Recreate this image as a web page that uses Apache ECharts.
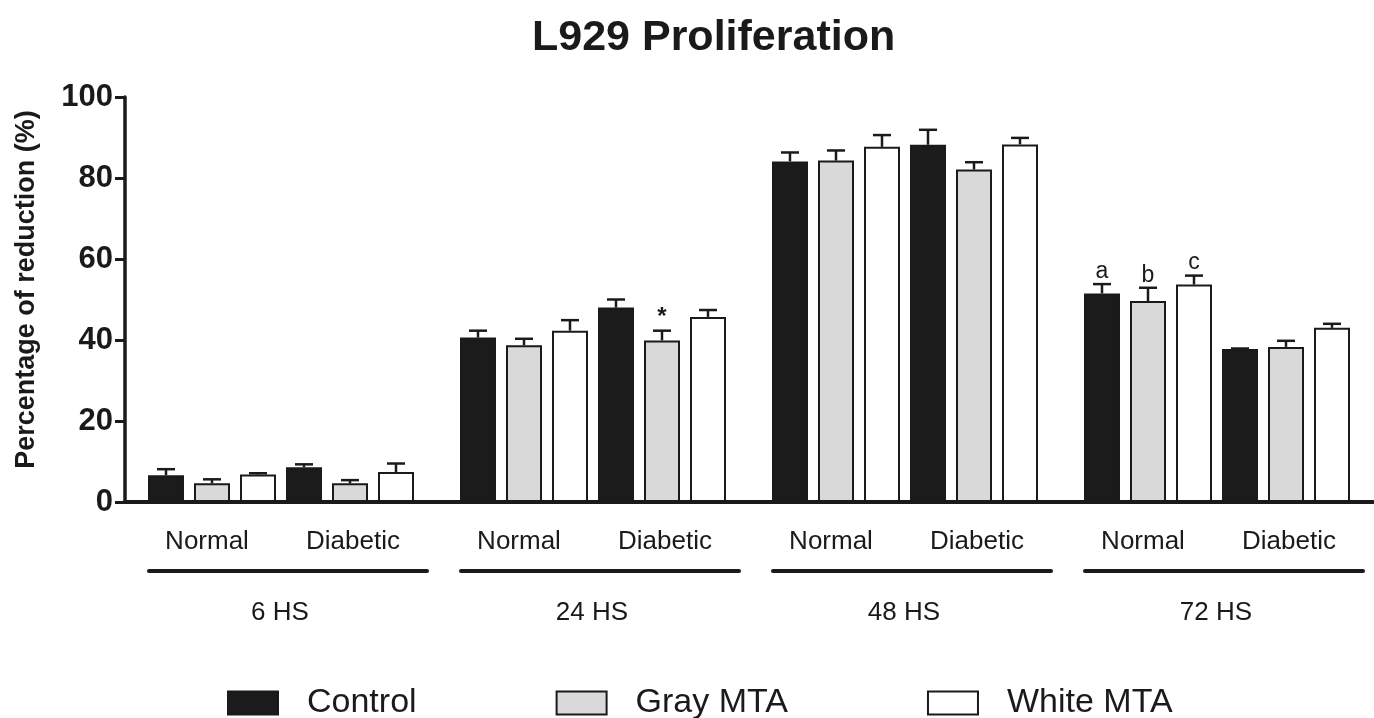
<!DOCTYPE html>
<html>
<head>
<meta charset="utf-8">
<title>L929 Proliferation</title>
<script src="https://cdn.jsdelivr.net/npm/echarts@6/dist/echarts.min.js"></script>
<style>
  html, body { margin: 0; padding: 0; background: #fff; }
  #chart { width: 1374px; height: 718px; }
</style>
</head>
<body>
<div id="chart"></div>
<script>
var groups = ['6 HS', '24 HS', '48 HS', '72 HS'];
var conditions = ['Normal', 'Diabetic'];
var treatments = ['Control', 'Gray MTA', 'White MTA'];

// mean percentage of reduction, one value per time group
var normalControl = [6.6, 40.6, 84.1, 51.5];
var normalGray = [4.6, 38.7, 84.3, 49.6];
var normalWhite = [6.8, 42.3, 87.7, 53.7];
var diabeticControl = [8.6, 48.0, 88.2, 37.8];
var diabeticGray = [4.6, 39.9, 82.1, 38.3];
var diabeticWhite = [7.4, 45.7, 88.3, 43.0];

// error bars (upper only)
var normalControlErr = [1.5, 1.7, 2.2, 2.3];
var normalGrayErr = [1.0, 1.6, 2.5, 3.3];
var normalWhiteErr = [0.3, 2.6, 2.9, 2.2];
var diabeticControlErr = [0.7, 2.0, 3.7, 0.1];
var diabeticGrayErr = [0.8, 2.4, 1.8, 1.5];
var diabeticWhiteErr = [2.1, 1.7, 1.6, 1.0];

// significance marks: [bar index in group, group index, text]
var sigMarks = [[4, 1, '*'], [0, 3, 'a'], [1, 3, 'b'], [2, 3, 'c']];

var yTicks = [0, 20, 40, 60, 80, 100];

var FONT = '"Liberation Sans", Arial, sans-serif';
var INK = '#1a1a1a';
var fills = ['#1b1b1b', '#d9d9d9', '#ffffff'];
var BAR_W = 36;
var BAR_PITCH = 46;

var means = [normalControl, normalGray, normalWhite, diabeticControl, diabeticGray, diabeticWhite];
var errs = [normalControlErr, normalGrayErr, normalWhiteErr, diabeticControlErr, diabeticGrayErr, diabeticWhiteErr];

function buildBars() {
    var list = [];
    for (var k = 0; k < 6; k++) {
        list.push({
            name: treatments[k % 3],
            type: 'bar',
            data: means[k],
            barWidth: BAR_W,
            barGap: ((BAR_PITCH - BAR_W) / BAR_W * 100) + '%',
            itemStyle: {
                color: fills[k % 3],
                borderColor: INK,
                borderWidth: 2
            },
            z: 2
        });
    }
    return list;
}

function buildErrData() {
    var data = [];
    for (var k = 0; k < 6; k++) {
        for (var g = 0; g < groups.length; g++) {
            var mark = '';
            for (var s = 0; s < sigMarks.length; s++) {
                if (sigMarks[s][0] === k && sigMarks[s][1] === g) mark = sigMarks[s][2];
            }
            data.push({ value: [g, k, means[k][g], errs[k][g]], mark: mark });
        }
    }
    return data;
}

var errData = buildErrData();

function renderErr(params, api) {
    var g = api.value(0), k = api.value(1), m = api.value(2), e = api.value(3);
    var base = api.coord([g, m]);
    var x = base[0] + (k - 2.5) * BAR_PITCH;
    var top = api.coord([g, m + e])[1];
    var children = [
        { type: 'line', shape: { x1: x, y1: base[1], x2: x, y2: top }, style: { stroke: INK, lineWidth: 2.5 } },
        { type: 'line', shape: { x1: x - 9, y1: top, x2: x + 9, y2: top }, style: { stroke: INK, lineWidth: 2.5 } }
    ];
    var mark = errData[params.dataIndex].mark;
    if (mark) {
        children.push({
            type: 'text',
            style: {
                text: mark, x: x, y: top - 1,
                align: 'center', verticalAlign: 'bottom',
                font: (mark === '*' ? 'bold 24px ' : '23px ') + FONT,
                fill: INK
            }
        });
    }
    return { type: 'group', children: children };
}

function renderGroupLabels(params, api) {
    var g = api.value(0);
    var c = api.coord([g, 0]);
    var cx = c[0], y0 = c[1];
    var f = '26px ' + FONT;
    return {
        type: 'group',
        children: [
            { type: 'text', style: { text: conditions[0], x: cx - 74, y: y0 + 40, align: 'center', verticalAlign: 'middle', font: f, fill: INK } },
            { type: 'text', style: { text: conditions[1], x: cx + 72, y: y0 + 40, align: 'center', verticalAlign: 'middle', font: f, fill: INK } },
            { type: 'line', shape: { x1: cx - 132, y1: y0 + 69, x2: cx + 146, y2: y0 + 69 }, style: { stroke: INK, lineWidth: 4, lineCap: 'round' } },
            { type: 'text', style: { text: groups[g], x: cx - 1, y: y0 + 111, align: 'center', verticalAlign: 'middle', font: f, fill: INK } }
        ]
    };
}

var chart = echarts.init(document.getElementById('chart'));

var series = buildBars();
series.push({
    type: 'custom',
    name: 'err',
    renderItem: renderErr,
    data: errData,
    encode: { x: 0, y: 2 },
    z: 3,
    clip: false
});
series.push({
    type: 'custom',
    name: 'groupLabels',
    renderItem: renderGroupLabels,
    data: groups.map(function (g, i) { return [i, 0]; }),
    encode: { x: 0, y: 1 },
    z: 3,
    clip: false
});

var option = {
    animation: false,
    backgroundColor: '#fff',
    title: {
        text: 'L929 Proliferation',
        left: 527,
        top: 12,
        textStyle: { fontFamily: FONT, fontSize: 43, fontWeight: 'bold', color: INK }
    },
    legend: {
        data: treatments,
        left: 222,
        top: 681,
        itemWidth: 50,
        itemHeight: 23,
        itemGap: 139,
        icon: 'rect',
        textStyle: { fontFamily: FONT, fontSize: 34, color: INK, padding: [0, 0, 0, 24] }
    },
    grid: { left: 125, right: 1, top: 97, bottom: 216 },
    xAxis: {
        type: 'category',
        data: groups,
        axisLine: { lineStyle: { color: INK, width: 4 } },
        axisTick: { alignWithLabel: true, length: 11, lineStyle: { color: INK, width: 3 } },
        axisLabel: { show: false },
        splitLine: { show: false }
    },
    yAxis: {
        type: 'value',
        min: yTicks[0],
        max: yTicks[yTicks.length - 1],
        interval: yTicks[1] - yTicks[0],
        name: 'Percentage of reduction (%)',
        nameLocation: 'middle',
        nameGap: 85,
        nameTextStyle: { fontFamily: FONT, fontSize: 27, fontWeight: 'bold', color: INK, padding: [0, 0, 0, 20] },
        axisLine: { show: true, lineStyle: { color: INK, width: 3.5 } },
        axisTick: { show: true, length: 10, lineStyle: { color: INK, width: 3 } },
        axisLabel: { fontFamily: FONT, fontSize: 31, fontWeight: 'bold', color: INK, margin: 12 },
        splitLine: { show: false }
    },
    series: series
};

chart.setOption(option);
</script>
</body>
</html>
